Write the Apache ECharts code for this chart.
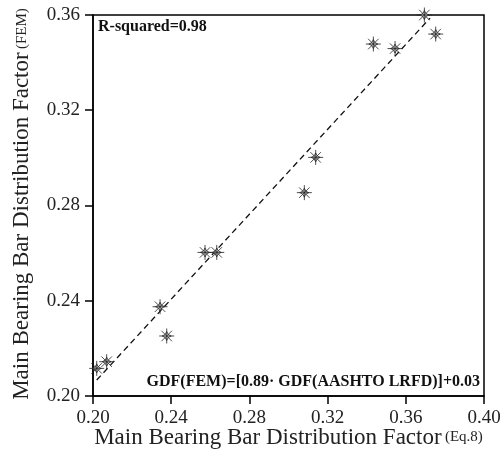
<!DOCTYPE html>
<html>
<head>
<meta charset="utf-8">
<script src="https://cdn.jsdelivr.net/npm/echarts@6/dist/echarts.min.js"></script>
<style>
  html, body { margin: 0; padding: 0; background: #fff; }
  #chart { width: 502px; height: 455px; }
</style>
</head>
<body>
<div id="chart"></div>
<script>
// GDF from Eq.8 (x) vs FEM (y)
const eqValues = [0.2019, 0.2070, 0.2343, 0.2377, 0.2573, 0.2633, 0.3081, 0.3139, 0.3434, 0.3545, 0.3695, 0.3753];
const femValues = [0.2116, 0.2144, 0.2375, 0.2252, 0.2603, 0.2603, 0.2854, 0.3002, 0.3478, 0.3459, 0.3600, 0.3520];
// fitted line ends
const fitX = [0.2019, 0.3724];
const fitY = [0.2067, 0.3587];
const xTicks = [0.20, 0.24, 0.28, 0.32, 0.36, 0.40];
const yTicks = [0.20, 0.24, 0.28, 0.32, 0.36];

const rSquaredText = 'R-squared=0.98';
const equationText = 'GDF(FEM)=[0.89· GDF(AASHTO LRFD)]+0.03';

const font = 'Liberation Serif';
const starPath = 'path://M10 0 L10 20 M0 10 L20 10 M3 3 L17 17 M3 17 L17 3 M10 4 L12 8 L16 10 L12 12 L10 16 L8 12 L4 10 L8 8 Z';

let myChart = echarts.init(document.getElementById('chart'));

let option = {
  animation: false,
  grid: {
    left: 93, right: 18, top: 15, bottom: 59,
    outerBoundsMode: 'none',
    show: true, borderColor: '#000', borderWidth: 1.5
  },
  xAxis: {
    type: 'value',
    min: xTicks[0], max: xTicks[xTicks.length - 1], interval: 0.04,
    splitLine: { show: false },
    axisLine: { lineStyle: { color: '#000', width: 1.5 } },
    axisTick: { length: 8, lineStyle: { color: '#000', width: 1.5 } },
    axisLabel: {
      margin: 13, fontFamily: font, fontSize: 19, color: '#222',
      formatter: v => v.toFixed(2)
    },
    name: '{a|Main Bearing Bar Distribution Factor} {b|(Eq.8)}',
    nameLocation: 'middle',
    nameGap: 30,
    nameMoveOverlap: false,
    nameTextStyle: {
      rich: {
        a: { fontFamily: font, fontSize: 23, color: '#222' },
        b: { fontFamily: font, fontSize: 15, color: '#222' }
      }
    }
  },
  yAxis: {
    type: 'value',
    min: yTicks[0], max: yTicks[yTicks.length - 1], interval: 0.04,
    splitLine: { show: false },
    axisLine: { lineStyle: { color: '#000', width: 1.5 } },
    axisTick: { length: 8, lineStyle: { color: '#000', width: 1.5 } },
    axisLabel: {
      margin: 13, fontFamily: font, fontSize: 19, color: '#222',
      formatter: v => v.toFixed(2)
    }
  },
  graphic: [
    {
      type: 'text',
      x: 22, y: 204,
      rotation: Math.PI / 2,
      style: {
        text: '{a|Main Bearing Bar Distribution Factor} {b|(FEM)}',
        align: 'center', verticalAlign: 'middle',
        rich: {
          a: { fontFamily: font, fontSize: 23, fill: '#222' },
          b: { fontFamily: font, fontSize: 15, fill: '#222' }
        }
      }
    },
    {
      type: 'text',
      left: 98, top: 19,
      style: { text: rSquaredText, font: 'bold 16px "Liberation Serif"', fill: '#111' }
    },
    {
      type: 'text',
      right: 22, top: 374,
      style: { text: equationText, font: 'bold 16px "Liberation Serif"', fill: '#111' }
    }
  ],
  series: [
    {
      type: 'line',
      data: fitX.map((x, i) => [x, fitY[i]]),
      symbol: 'none',
      lineStyle: { color: '#111', width: 1.3, type: [6, 4] },
      z: 2
    },
    {
      type: 'scatter',
      data: eqValues.map((x, i) => [x, femValues[i]]),
      symbol: starPath,
      symbolSize: 15,
      itemStyle: { color: '#fff', borderColor: '#222', borderWidth: 1 },
      z: 3
    }
  ]
};

option && myChart.setOption(option);
</script>
</body>
</html>
